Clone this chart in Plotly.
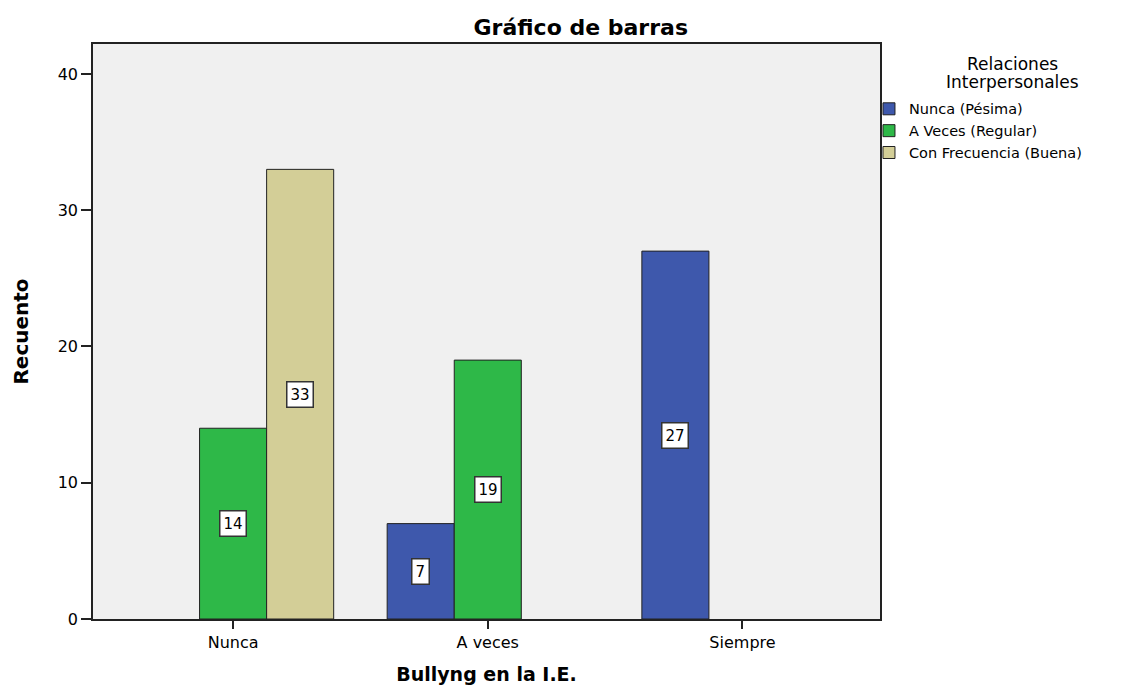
import plotly.graph_objects as go

categories = ["Nunca", "A veces", "Siempre"]
series_names = ["Nunca (Pésima)", "A Veces (Regular)", "Con Frecuencia (Buena)"]
nunca_pesima = [None, 7, 27]
a_veces_regular = [14, 19, None]
con_frecuencia_buena = [33, None, None]
series_values = [nunca_pesima, a_veces_regular, con_frecuencia_buena]
colors = ["#3E58AC", "#2EB848", "#D3CE97"]
y_ticks = [0, 10, 20, 30, 40]
legend_title_lines = ["Relaciones", "Interpersonales"]

FONT = "DejaVu Sans, Liberation Sans, Arial, sans-serif"
bargap = 0.21
slot = (1 - bargap) / len(series_values)

fig = go.Figure()
for name, vals, col in zip(series_names, series_values, colors):
    fig.add_trace(go.Bar(
        x=categories, y=vals, name=name,
        marker=dict(color=col, line=dict(color="#222222", width=1)),
    ))

annotations = []
for j, vals in enumerate(series_values):
    for i, v in enumerate(vals):
        if v is None:
            continue
        annotations.append(dict(
            x=i + (j - (len(series_values) - 1) / 2) * slot, y=v / 2,
            xref="x", yref="y", text=str(v), showarrow=False,
            font=dict(family=FONT, size=15, color="#000000"),
            bgcolor="#FFFFFF", bordercolor="#333333", borderwidth=1.5, borderpad=3,
        ))

# legend title, two centred lines
for k, line in enumerate(legend_title_lines):
    annotations.append(dict(
        x=1.168, y=0.965 - k * 0.031, xref="paper", yref="paper",
        xanchor="center", yanchor="middle",
        text=line, showarrow=False, align="center",
        font=dict(family=FONT, size=17, color="#000000"),
    ))

fig.update_layout(
    width=1141, height=686,
    margin=dict(l=84, r=269, t=36, b=72),
    paper_bgcolor="#FFFFFF", plot_bgcolor="#F0F0F0",
    barmode="group", bargap=bargap, bargroupgap=0,
    font=dict(family=FONT, size=16, color="#000000"),
    title=dict(text="<b>Gráfico de barras</b>", x=0.502, xanchor="center",
               y=0.972, yanchor="middle", font=dict(family=FONT, size=22)),
    xaxis=dict(
        type="category", range=[-0.55, 2.54],
        showline=True, linecolor="#222222", linewidth=1.5, mirror=True,
        ticks="outside", ticklen=8, tickcolor="#222222", tickwidth=1.5,
        tickfont=dict(size=16), showgrid=False,
        title=dict(text="<b>Bullyng en la I.E.</b>", font=dict(family=FONT, size=19), standoff=17),
    ),
    yaxis=dict(
        range=[0, 42.2], tickvals=y_ticks,
        showline=True, linecolor="#222222", linewidth=1.5, mirror=True,
        ticks="outside", ticklen=10, tickcolor="#222222", tickwidth=1.5,
        tickfont=dict(size=16), showgrid=False, zeroline=False,
        title=dict(text="<b>Recuento</b>", font=dict(family=FONT, size=20), standoff=24),
    ),
    legend=dict(
        x=0.986, xanchor="left", y=0.915, yanchor="top",
        font=dict(family=FONT, size=14.5), itemwidth=30,
        tracegroupgap=0, bgcolor="rgba(0,0,0,0)",
    ),
    annotations=annotations,
)

fig.write_html("out.html")
